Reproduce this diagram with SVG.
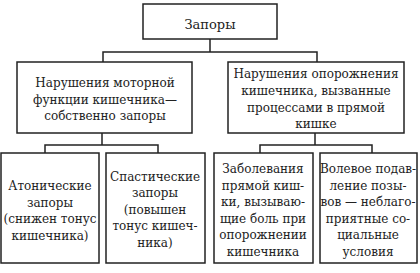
<svg xmlns="http://www.w3.org/2000/svg" width="420" height="273" viewBox="0 0 420 273">
<style>
.box{fill:#fff;stroke:#222;stroke-width:1.5}
.ln{fill:none;stroke:#222;stroke-width:1.5}
text{font-family:"DejaVu Serif","Liberation Serif",serif;font-size:12px;fill:#222;text-anchor:middle}
</style>
<rect width="420" height="273" fill="#fff"/>
<g id="connectors">
<path class="ln" d="M210 39V52M103 62V52H317V62"/>
<path class="ln" d="M102 133V145M45 153V145H158V153"/>
<path class="ln" d="M315 133V145M260 153V145H372V153"/>
</g>
<g id="n0"><rect class="box" x="143" y="4" width="134" height="35"/><text x="210" y="29" style="font-size:13px">Запоры</text></g>
<g id="n1"><rect class="box" x="17" y="62" width="175" height="71"/>
<text><tspan x="105" y="87">Нарушения моторной</tspan><tspan x="105" y="104">функции кишечника—</tspan><tspan x="105" y="120">собственно запоры</tspan></text></g>
<g id="n2"><rect class="box" x="228" y="62" width="176" height="71"/>
<text><tspan x="316" y="78">Нарушения опорожнения</tspan><tspan x="316" y="95">кишечника, вызванные</tspan><tspan x="316" y="112">процессами в прямой</tspan><tspan x="316" y="128">кишке</tspan></text></g>
<g id="n3"><rect class="box" x="1" y="153" width="98" height="110"/>
<text><tspan x="50" y="190">Атонические</tspan><tspan x="50" y="207">запоры</tspan><tspan x="50" y="223">(снижен тонус</tspan><tspan x="50" y="240">кишечника)</tspan></text></g>
<g id="n4"><rect class="box" x="106" y="153" width="99" height="110"/>
<text><tspan x="155" y="181">Спастические</tspan><tspan x="155" y="197">запоры</tspan><tspan x="155" y="214">(повышен</tspan><tspan x="155" y="230">тонус кишеч-</tspan><tspan x="155" y="247">ника)</tspan></text></g>
<g id="n5"><rect class="box" x="214" y="153" width="99" height="110"/>
<text><tspan x="263" y="173">Заболевания</tspan><tspan x="263" y="190">прямой киш-</tspan><tspan x="263" y="206">ки, вызываю-</tspan><tspan x="263" y="223">щие боль при</tspan><tspan x="263" y="239">опорожнении</tspan><tspan x="263" y="256">кишечника</tspan></text></g>
<g id="n6"><rect class="box" x="320" y="153" width="97" height="110"/>
<text><tspan x="368" y="173">Волевое подав-</tspan><tspan x="368" y="190">ление позы-</tspan><tspan x="368" y="206">вов — неблаго-</tspan><tspan x="368" y="223">приятные со-</tspan><tspan x="368" y="239">циальные</tspan><tspan x="368" y="256">условия</tspan></text></g>
</svg>
